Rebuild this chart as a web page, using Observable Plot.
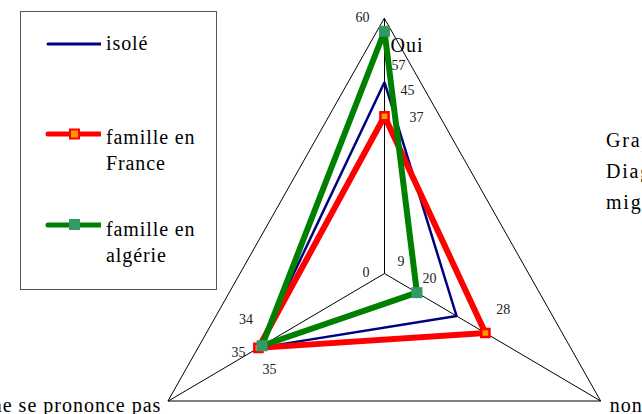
<!DOCTYPE html>
<html><head><meta charset="utf-8">
<script src="https://cdn.jsdelivr.net/npm/d3@7"></script>
<script src="https://cdn.jsdelivr.net/npm/@observablehq/plot@0.6"></script>
<style>
body{margin:0;background:#fff;}
#wrap{position:relative;width:642px;height:414px;overflow:hidden;font-family:"Liberation Serif","Times New Roman",serif;color:#000;}
#chart{position:absolute;left:0;top:0;}
#legend{position:absolute;left:20px;top:11px;width:197px;height:279px;border:1px solid #555;box-sizing:border-box;}
.lab{position:absolute;left:85px;font-size:20px;line-height:26px;letter-spacing:0.9px;white-space:nowrap;}
#side{position:absolute;left:606px;top:125px;font-size:20px;line-height:31px;letter-spacing:1.8px;white-space:nowrap;}
</style></head>
<body>
<div id="wrap">
  <div id="chart"></div>
  <div id="legend"></div>
  <div id="side">Graphique<br>Diagramme radar<br>migrants</div>
</div>
<script>
const axes = ["Oui", "non", "ne se prononce pas"];
const seriesNames = ["isolé", "famille en France", "famille en algérie"];
const isole = [45, 20, 35];
const familleFrance = [37, 28, 35];
const familleAlgerie = [57, 9, 34];
const tickValues = [0, 60];
const axisMax = 60;

const angles = [90, -30, 210].map(d => d * Math.PI / 180);
const seriesValues = [isole, familleFrance, familleAlgerie];
const colors = ["#000080", "#ff0000", "#008000"];
const widths = [2.5, 6, 6];

const pts = [];
seriesValues.forEach((vals, s) => vals.forEach((v, i) => {
  pts.push({series: seriesNames[s], s, axis: axes[i], i, value: v,
    x: v * Math.cos(angles[i]), y: v * Math.sin(angles[i])});
}));
const verts = axes.map((a, i) => ({axis: a, i, x: axisMax * Math.cos(angles[i]), y: axisMax * Math.sin(angles[i])}));

const kx = 4.16, ky = 4.25, cx = 384, cy = 273, W = 642, H = 414;

// label pixel offsets [series][axis]
const off = [
  [[23, 8], [-27, -37], [11, 22]],
  [[32, 1], [18, -23], [-20, 5]],
  [[14, 34], [-16, -31], [-16, -26]]
];

const marks = [
  Plot.link(verts, {x1: 0, y1: 0, x2: "x", y2: "y", stroke: "#000", strokeWidth: 1}),
  Plot.line(verts, {x: "x", y: "y", curve: "linear-closed", stroke: "#000", strokeWidth: 1})
];
seriesNames.forEach((name, s) => {
  marks.push(Plot.line(pts.filter(d => d.s === s), {x: "x", y: "y", curve: "linear-closed",
    stroke: colors[s], strokeWidth: widths[s], strokeLinejoin: "miter"}));
  if (s === 1) marks.push(Plot.dot(pts.filter(d => d.s === 1), {x: "x", y: "y", symbol: "square", r: 4.6, fill: "#ff9900", stroke: "#ff0000", strokeWidth: 2.5}));
  if (s === 2) marks.push(Plot.dot(pts.filter(d => d.s === 2), {x: "x", y: "y", symbol: "square", r: 6.2, fill: "#339966"}));
});
pts.forEach(p => {
  const [dx, dy] = off[p.s][p.i];
  marks.push(Plot.text([p], {x: "x", y: "y", text: d => String(d.value), dx, dy,
    fontSize: 14, fill: "#222", fontFamily: "Liberation Serif"}));
});
// scale tick labels along the Oui axis
marks.push(Plot.text(tickValues, {x: 0, y: d => d, text: d => String(d), dx: -15, dy: -1, textAnchor: "end",
  fontSize: 14, fill: "#222", fontFamily: "Liberation Serif"}));
// axis category labels
const axisLabelOpts = [
  {dx: 6, dy: 27, textAnchor: "start"},
  {dx: 9, dy: 5, textAnchor: "start"},
  {dx: -7, dy: 5, textAnchor: "end"}
];
verts.forEach((v, i) => {
  marks.push(Plot.text([v], {x: "x", y: "y", text: "axis", ...axisLabelOpts[i], fontSize: 20, fill: "#000",
    fontFamily: "Liberation Serif"}));
});

const chart = Plot.plot({
  width: W, height: H, margin: 0,
  x: {type: "linear", domain: [-cx / kx, (W - cx) / kx], range: [0, W], axis: null},
  y: {type: "linear", domain: [-(H - cy) / ky, cy / ky], range: [H, 0], axis: null},
  style: {background: "transparent", overflow: "visible"},
  marks
});
d3.select(chart).selectAll("text").filter(function() { return this.textContent.length > 2; })
  .style("letter-spacing", "1px");
document.getElementById("chart").appendChild(chart);

// legend
const leg = document.getElementById("legend");
const legendRows = [
  {top: 32, textTop: 18, lines: ["isolé"]},
  {top: 122, textTop: 112, lines: ["famille en", "France"]},
  {top: 213, textTop: 204, lines: ["famille en", "algérie"]}
];
seriesNames.forEach((name, s) => {
  const row = legendRows[s];
  const sw = d3.create("svg").attr("width", 80).attr("height", 24)
    .style("position", "absolute").style("left", "0px").style("top", (row.top - 12) + "px");
  sw.append("line").attr("x1", 27).attr("x2", 80).attr("y1", 12).attr("y2", 12)
    .attr("stroke", colors[s]).attr("stroke-width", widths[s] === 6 ? 5 : 3).attr("stroke-linecap", "round");
  if (s === 1) sw.append("rect").attr("x", 49).attr("y", 7.5).attr("width", 9).attr("height", 9)
    .attr("fill", "#ff9900").attr("stroke", "#ff0000").attr("stroke-width", 2);
  if (s === 2) sw.append("rect").attr("x", 48).attr("y", 6).attr("width", 11).attr("height", 11).attr("fill", "#339966");
  leg.appendChild(sw.node());
  const t = document.createElement("div");
  t.className = "lab";
  t.style.top = row.textTop + "px";
  t.innerHTML = row.lines.join("<br>");
  leg.appendChild(t);
});
</script>
</body></html>
